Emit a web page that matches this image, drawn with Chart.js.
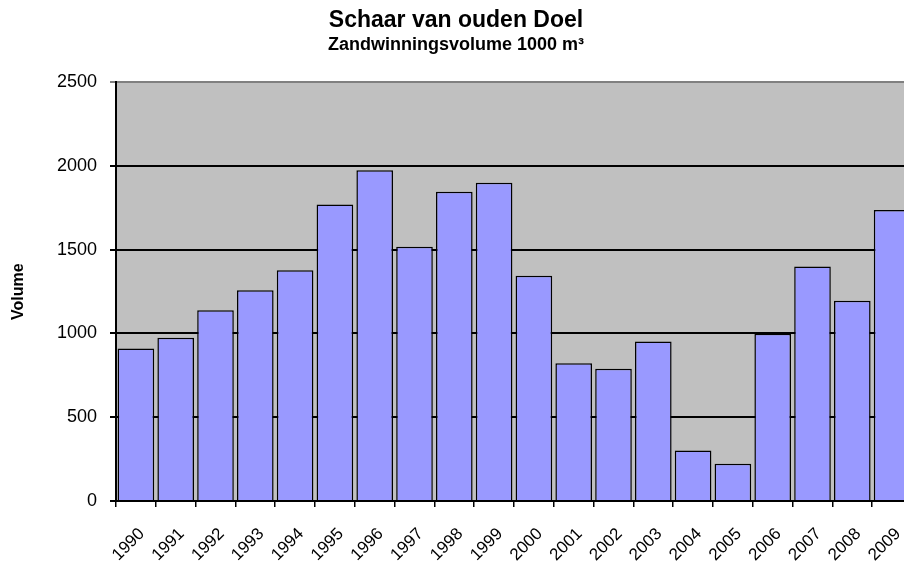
<!DOCTYPE html>
<html>
<head>
<meta charset="utf-8">
<script src="https://cdn.jsdelivr.net/npm/chart.js@4/dist/chart.umd.min.js"></script>
<style>
  html, body { margin: 0; padding: 0; background: #fff; overflow: hidden; }
  #wrap { width: 912px; height: 563px; }
</style>
</head>
<body>
<div id="wrap"><canvas id="grafiek"></canvas></div>
<script>
// Gegevens
const jaren = ['1990', '1991', '1992', '1993', '1994', '1995', '1996', '1997', '1998', '1999',
               '2000', '2001', '2002', '2003', '2004', '2005', '2006', '2007', '2008', '2009'];
const volumes = [910, 975, 1138, 1258, 1378, 1770, 1975, 1517, 1846, 1900,
                 1345, 822, 790, 952, 302, 223, 998, 1400, 1195, 1737];
const yTicks = [0, 500, 1000, 1500, 2000, 2500];

// grijze achtergrond van het plotvlak
const plotAchtergrond = {
    id: 'plotAchtergrond',
    beforeDraw(chart) {
        const { ctx, chartArea } = chart;
        ctx.save();
        ctx.fillStyle = '#C0C0C0';
        ctx.fillRect(chartArea.left, chartArea.top, chartArea.right - chartArea.left, chartArea.bottom - chartArea.top);
        ctx.restore();
    }
};

const fontFam = '"Liberation Sans", Arial, sans-serif';

new Chart(document.getElementById('grafiek'), {
    type: 'bar',
    data: {
        labels: jaren,
        datasets: [{
            label: 'Volume',
            data: volumes,
            backgroundColor: '#9999FF',
            borderColor: '#000000',
            borderWidth: 1.5,
            barPercentage: 0.92,
            categoryPercentage: 1
        }]
    },
    options: {
        responsive: true,
        maintainAspectRatio: false,
        animation: false,
        layout: { padding: 0 },
        plugins: {
            legend: { display: false },
            tooltip: { enabled: false },
            title: {
                display: true,
                text: 'Schaar van ouden Doel',
                color: '#000',
                font: { family: fontFam, size: 23, weight: 'bold' },
                padding: { top: 7, bottom: 0 }
            },
            subtitle: {
                display: true,
                text: 'Zandwinningsvolume 1000 m³',
                color: '#000',
                font: { family: fontFam, size: 18, weight: 'bold' },
                padding: { top: 0, bottom: 26 }
            }
        },
        scales: {
            x: {
                offset: true,
                afterFit(scale) {
                    scale.height = 62;
                    scale.paddingRight = 0;
                },
                grid: {
                    display: true,
                    drawOnChartArea: false,
                    drawTicks: true,
                    tickLength: 6,
                    color: '#000',
                    lineWidth: 1.5
                },
                border: { display: true, color: '#000', width: 2 },
                ticks: {
                    autoSkip: false,
                    minRotation: 45,
                    maxRotation: 45,
                    padding: 17,
                    labelOffset: 6,
                    color: '#000',
                    font: { family: fontFam, size: 17 }
                }
            },
            y: {
                min: 0,
                max: 2500,
                afterBuildTicks(scale) {
                    scale.ticks = yTicks.map(v => ({ value: v }));
                },
                afterFit(scale) {
                    scale.width = 116;
                },
                grid: {
                    color: (c) => c.tick && c.tick.value === 2500 ? '#808080' : '#000',
                    lineWidth: 2,
                    drawTicks: true,
                    tickLength: 6
                },
                border: { display: true, color: '#000', width: 2 },
                ticks: {
                    padding: 13,
                    color: '#000',
                    font: { family: fontFam, size: 18 },
                    callback: (v) => String(v)
                },
                title: {
                    display: true,
                    text: 'Volume',
                    color: '#000',
                    font: { family: fontFam, size: 16, weight: 'bold' },
                    padding: { top: 9, bottom: 0 }
                }
            }
        }
    },
    plugins: [plotAchtergrond]
});
</script>
</body>
</html>
